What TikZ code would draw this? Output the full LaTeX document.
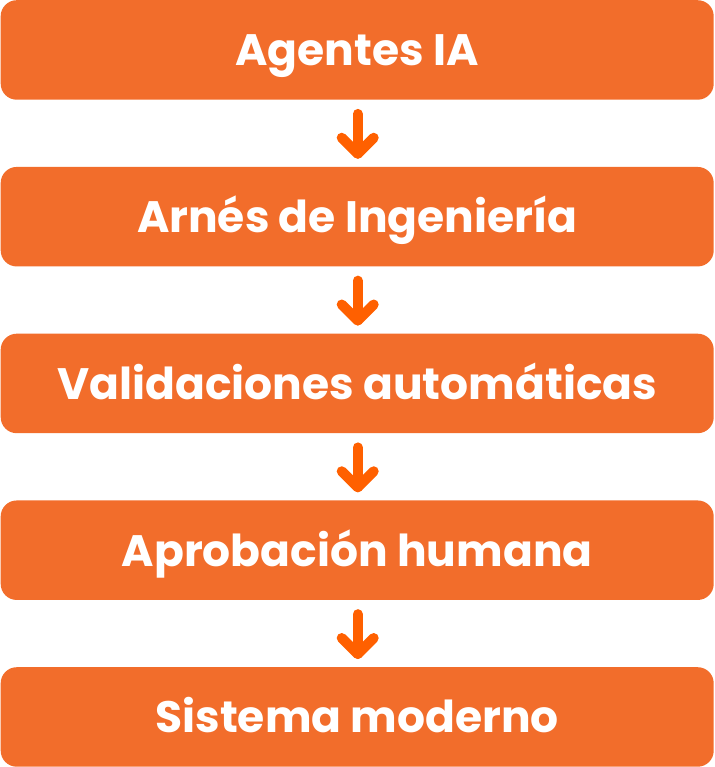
\documentclass[tikz,border=0pt]{standalone}
\usepackage{fontspec}
\setmainfont{Poppins}[BoldFont={* Bold}]
\definecolor{boxorange}{HTML}{F26D2B}
\definecolor{arroworange}{HTML}{FF6000}
\begin{document}
\begin{tikzpicture}[x=1pt,y=-1pt,
  stepbox/.style={fill=boxorange, rounded corners=16pt, minimum width=713pt, minimum height=99.5pt, inner sep=0pt, text height=40pt, text depth=8pt, text=white, font=\fontsize{44}{52}\selectfont\bfseries, anchor=north west},
  downarrow/.style={draw=arroworange, line width=10pt, line cap=round, line join=round}]
\useasboundingbox (0,0) rectangle (714,767);
\node[stepbox] (b1) at (0.5,0) {Agentes IA};
\node[stepbox] (b2) at (0.5,166.75) {Arnés de Ingeniería};
\node[stepbox] (b3) at (0.5,333.5) {Validaciones automáticas};
\node[stepbox] (b4) at (0.5,500.25) {Aprobación humana};
\node[stepbox] (b5) at (0.5,667) {Sistema moderno};
\foreach \a/\b in {b1/b2,b2/b3,b3/b4,b4/b5}{
  \coordinate (s) at ([xshift=0.5pt,yshift=-14pt]\a.south);
  \coordinate (t) at ([xshift=0.5pt,yshift=13pt]\b.north);
  \draw[downarrow] (s) -- (t);
  \draw[downarrow] ([xshift=-16pt,yshift=16pt]t) -- (t) -- ([xshift=16pt,yshift=16pt]t);
}
\end{tikzpicture}
\end{document}
